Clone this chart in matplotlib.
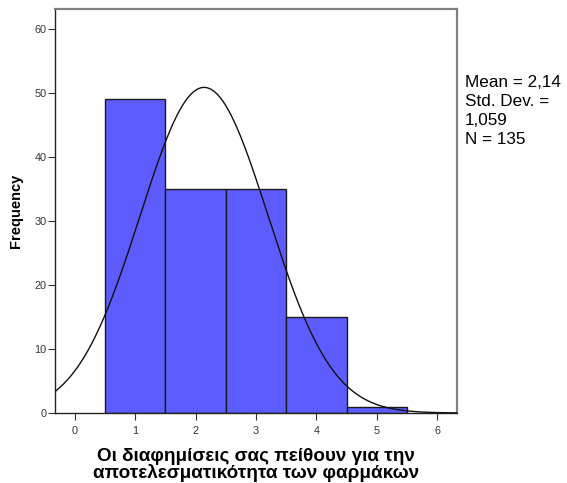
import numpy as np
import matplotlib
matplotlib.use("Agg")
import matplotlib.pyplot as plt

# Response categories and their counts
categories = [1, 2, 3, 4, 5]
counts = [49, 35, 35, 15, 1]
x_ticks = [0, 1, 2, 3, 4, 5, 6]
y_ticks = [0, 10, 20, 30, 40, 50, 60]

mean_value = 2.14
std_value = 1.059
n_value = 135

plt.rcParams['font.family'] = ['Liberation Sans', 'DejaVu Sans']

fig = plt.figure(figsize=(5.67, 4.83), dpi=100)
ax = fig.add_axes([55 / 567, 1 - 413 / 483, 402 / 567, 404 / 483])

ax.bar(categories, counts, width=1.0, color='#5c5cff', edgecolor='#1a1a1a',
       linewidth=1.0, zorder=2)

# Normal curve scaled to counts (bin width 1)
xs = np.linspace(-0.4, 6.4, 400)
pdf = np.exp(-0.5 * ((xs - mean_value) / std_value) ** 2) / (std_value * np.sqrt(2 * np.pi))
ax.plot(xs, n_value * pdf, color='#111111', linewidth=1.0, zorder=3)

ax.set_xlim(-0.33, 6.33)
ax.set_ylim(0, 63.1)
ax.set_xticks(x_ticks)
ax.set_yticks(y_ticks)
ax.tick_params(axis='both', direction='out', length=5, width=0.8,
               labelsize=7.8, colors='#333333', pad=1)
ax.tick_params(axis='x', pad=4)

for side in ('top', 'right'):
    ax.spines[side].set_color('#808080')
    ax.spines[side].set_linewidth(1.6)
for side in ('left', 'bottom'):
    ax.spines[side].set_color('#222222')
    ax.spines[side].set_linewidth(1.0)

ax.set_ylabel('Frequency', fontsize=10.5, fontweight='bold', labelpad=8)
ax.set_xlabel('Οι διαφημίσεις σας πείθουν για την\nαποτελεσματικότητα των φαρμάκων',
              fontsize=13.6, fontweight='bold', labelpad=9, linespacing=0.95)

fig.text(465 / 567, 1 - 75 / 483,
         'Mean = 2,14\nStd. Dev. =\n1,059\nN = 135',
         fontsize=12.3, va='top', ha='left', linespacing=1.32, color='#000000')

fig.savefig('out.png', dpi=100)
